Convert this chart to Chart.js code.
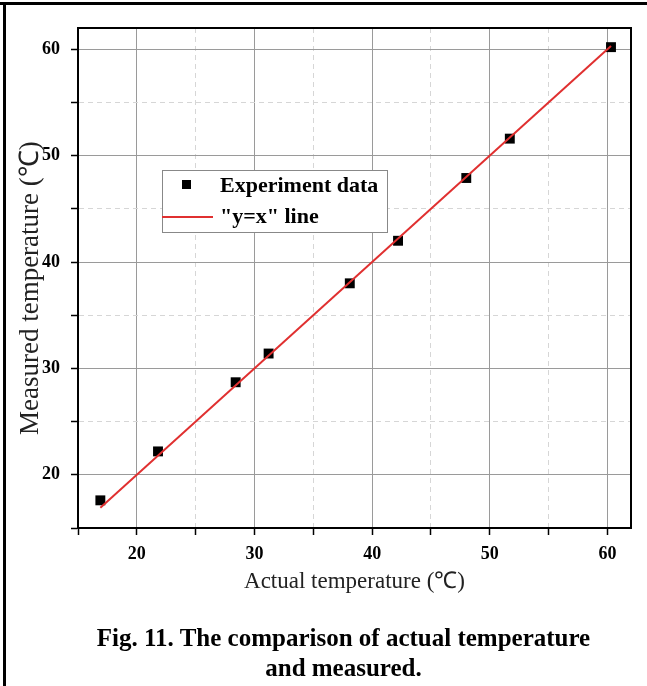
<!DOCTYPE html>
<html>
<head>
<meta charset="utf-8">
<script src="https://cdn.jsdelivr.net/npm/chart.js@4/dist/chart.umd.min.js"></script>
<style>
    body { margin: 0; background: #fff; }
    #wrap { position: relative; width: 647px; height: 686px; overflow: hidden; }
    #frameTop { position: absolute; left: 0; top: 2px; width: 647px; height: 3px; background: #000; }
    #frameLeft { position: absolute; left: 3px; top: 2px; width: 3px; height: 684px; background: #000; }
    #chart { position: absolute; left: 0; top: 0; }
    .caption {
        position: absolute; left: 0; width: 647px; text-align: center;
        font-family: "Liberation Serif", serif; font-weight: bold; font-size: 25px; color: #000;
        padding-left: 40px; box-sizing: border-box;
    }
</style>
</head>
<body>
<div id="wrap">
    <canvas id="chart" width="647" height="600"></canvas>
    <div id="frameTop"></div>
    <div id="frameLeft"></div>
    <div class="caption" style="top: 624px;">Fig. 11. The comparison of actual temperature</div>
    <div class="caption" style="top: 654px;">and measured.</div>
</div>
<script>
// measured vs actual temperature
const actualTemp = [16.9, 21.8, 28.4, 31.2, 38.1, 42.2, 48.0, 51.7, 60.3];
const measuredTemp = [17.6, 22.2, 28.7, 31.4, 38.0, 42.0, 47.9, 51.6, 60.2];

// ends of the "y=x" reference line
const lineX = [16.9, 60.3];
const lineY = [16.9, 60.3];

const axisMin = 15;
const axisMax = 62;
const tickStep = 5;
const labelStep = 10;

const serif = '"Liberation Serif", "Times New Roman", serif';

function gridColor(ctx) {
    if (!ctx.tick) return '#999';
    return ctx.tick.value % labelStep === 0 ? '#9a9a9a' : '#d6d6d6';
}

function gridDash(ctx) {
    if (!ctx.tick) return [];
    return ctx.tick.value % labelStep === 0 ? [] : [5, 4];
}

function tickLabel(value) {
    return value % labelStep === 0 ? value : '';
}

// black box round the plot area
const plotFrame = {
    id: 'plotFrame',
    afterDraw(chart) {
        const a = chart.chartArea;
        const c = chart.ctx;
        c.save();
        c.strokeStyle = '#000';
        c.lineWidth = 2;
        c.strokeRect(a.left, a.top, a.right - a.left, a.bottom - a.top);
        c.restore();
    }
};

// legend box sitting inside the plot
const insideLegend = {
    id: 'insideLegend',
    afterDraw(chart) {
        const c = chart.ctx;
        const a = chart.chartArea;
        const x = a.left + 84;
        const y = a.top + 142;
        const w = 225;
        const h = 62;
        c.save();
        c.fillStyle = '#fff';
        c.fillRect(x, y, w, h);
        c.strokeStyle = '#888';
        c.lineWidth = 1;
        c.strokeRect(x + 0.5, y + 0.5, w, h);

        c.fillStyle = '#000';
        c.fillRect(x + 20, y + 10, 9, 9);

        c.strokeStyle = '#e03030';
        c.lineWidth = 2;
        c.beginPath();
        c.moveTo(x, y + 47);
        c.lineTo(x + 51, y + 47);
        c.stroke();

        c.fillStyle = '#000';
        c.font = 'bold 22px ' + serif;
        c.textBaseline = 'middle';
        c.fillText(chart.data.datasets[1].label, x + 58, y + 16);
        c.fillText(chart.data.datasets[0].label, x + 58, y + 47);
        c.restore();
    }
};

function initTempChart() {
    const ctx = document.getElementById('chart').getContext('2d');

    const points = actualTemp.map((v, i) => ({ x: v, y: measuredTemp[i] }));
    const refLine = lineX.map((v, i) => ({ x: v, y: lineY[i] }));

    new Chart(ctx, {
        type: 'scatter',
        data: {
            datasets: [{
                label: '"y=x" line',
                data: refLine,
                showLine: true,
                borderColor: '#e03030',
                borderWidth: 2,
                pointRadius: 0,
                order: 0
            }, {
                label: 'Experiment data',
                data: points,
                pointStyle: 'rect',
                pointRadius: 7,
                pointBackgroundColor: '#000',
                pointBorderColor: '#000',
                pointBorderWidth: 0,
                order: 1
            }]
        },
        options: {
            responsive: false,
            animation: false,
            layout: { padding: { top: 28, right: 16, bottom: 0, left: 0 } },
            plugins: {
                legend: { display: false },
                tooltip: { enabled: false }
            },
            scales: {
                x: {
                    type: 'linear',
                    min: axisMin,
                    max: axisMax,
                    afterFit: scale => { scale.height = 72; },
                    border: { display: true, color: '#000', width: 2, dash: gridDash },
                    grid: {
                        color: gridColor,
                        lineWidth: 1,
                        drawTicks: true,
                        tickLength: 7,
                        tickColor: '#000',
                        tickWidth: 1.5
                    },
                    ticks: {
                        stepSize: tickStep,
                        includeBounds: false,
                        autoSkip: false,
                        maxRotation: 0,
                        padding: 9,
                        color: '#000',
                        font: { family: serif, weight: 'bold', size: 18 },
                        callback: tickLabel
                    },
                    title: {
                        display: true,
                        text: 'Actual temperature (℃)',
                        color: '#222',
                        font: { family: serif, size: 23 },
                        padding: { top: 0, bottom: 4 }
                    }
                },
                y: {
                    type: 'linear',
                    min: axisMin,
                    max: axisMax,
                    afterFit: scale => { scale.width = 78; },
                    border: { display: true, color: '#000', width: 2, dash: gridDash },
                    grid: {
                        color: gridColor,
                        lineWidth: 1,
                        drawTicks: true,
                        tickLength: 7,
                        tickColor: '#000',
                        tickWidth: 1.5
                    },
                    ticks: {
                        stepSize: tickStep,
                        includeBounds: false,
                        autoSkip: false,
                        padding: 11,
                        color: '#000',
                        font: { family: serif, weight: 'bold', size: 18 },
                        callback: tickLabel
                    },
                    title: {
                        display: true,
                        // trailing spaces nudge the rotated title down a little, as in the figure
                        text: 'Measured temperature (℃)   ',
                        color: '#222',
                        font: { family: serif, size: 27 },
                        padding: { top: 15, bottom: 0 }
                    }
                }
            }
        },
        plugins: [plotFrame, insideLegend]
    });
}

initTempChart();
</script>
</body>
</html>
